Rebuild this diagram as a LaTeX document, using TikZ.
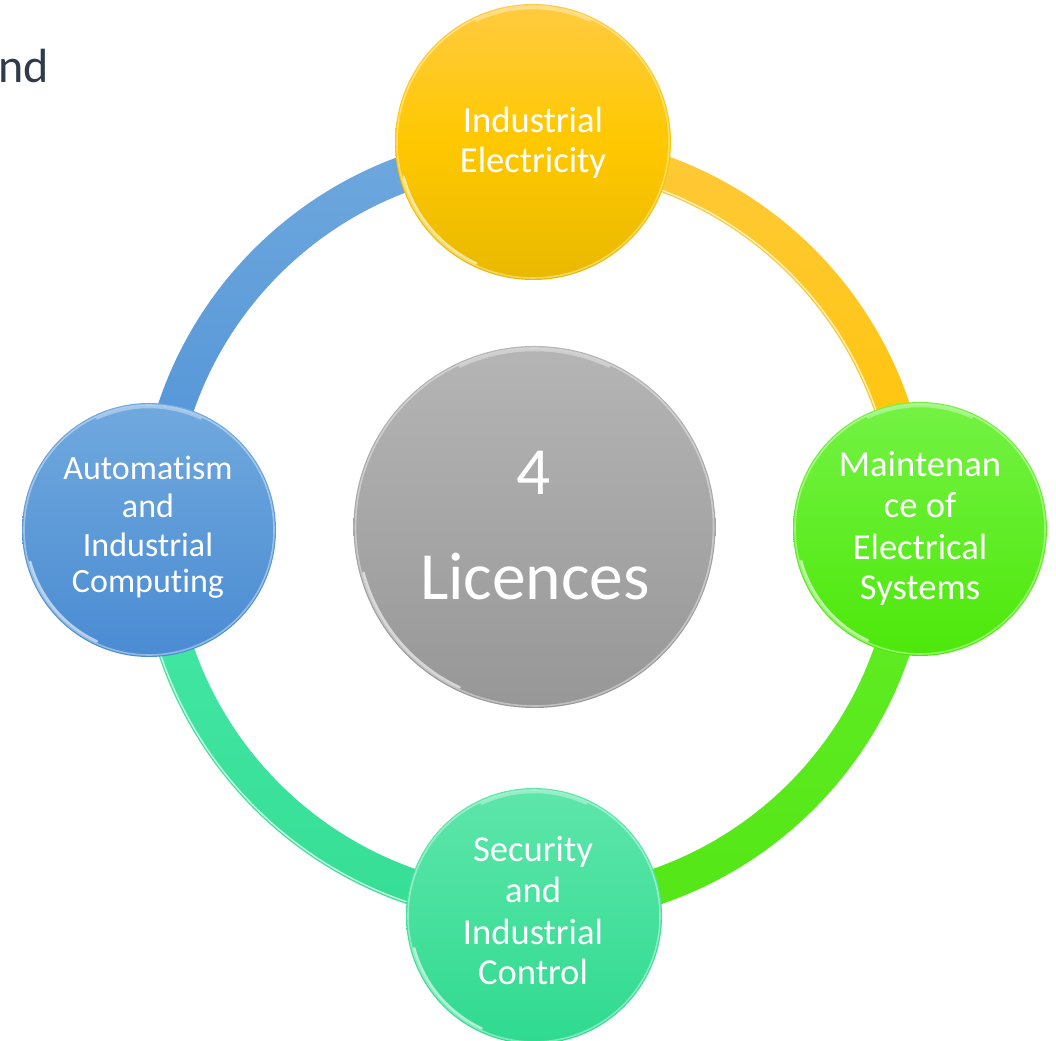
\documentclass[tikz,border=0pt]{standalone}
\usepackage{fontspec}
\setmainfont[Ligatures={NoCommon}]{Carlito}
\definecolor{blueT}{HTML}{70A9DE}
\definecolor{blueB}{HTML}{4A8BD2}
\definecolor{yelT}{HTML}{FFCB40}
\definecolor{yelM}{HTML}{FFC800}
\definecolor{yelB}{HTML}{E9B900}
\definecolor{grnT}{HTML}{74F244}
\definecolor{grnB}{HTML}{4DE80A}
\definecolor{tealT}{HTML}{5EE6AA}
\definecolor{tealB}{HTML}{2FDA90}
\definecolor{grayT}{HTML}{B5B5B5}
\definecolor{grayB}{HTML}{979797}
\definecolor{ringBlueT}{HTML}{6FA8DE}
\definecolor{ringBlueB}{HTML}{4E92D6}
\definecolor{ringYelT}{HTML}{FFC93A}
\definecolor{ringYelB}{HTML}{FFC400}
\definecolor{ringGrnT}{HTML}{62EE26}
\definecolor{ringGrnB}{HTML}{54E616}
\definecolor{ringTealT}{HTML}{44E8A8}
\definecolor{ringTealB}{HTML}{36DE94}
\definecolor{slate}{HTML}{2F3B4C}
\begin{document}
\begin{tikzpicture}[x=1pt,y=1pt,
  ball/.style={circle, inner sep=0pt, outer sep=0pt, draw=none},
  lbl/.style={anchor=base, inner sep=0pt, text=white},
  fs/.style={font=\fontsize{36.6}{41}\selectfont},
  fsl/.style={font=\fontsize{34}{38}\selectfont},
  rim/.style={draw=white, draw opacity=.4, line width=1.6pt},
  shine/.style={draw=white, draw opacity=.6, line width=2.5pt, line cap=round}
]
\useasboundingbox (0,0) rectangle (1056,1040);
\fill[white] (0,0) rectangle (1056,1040);

% partial title text
\node[anchor=base west, inner sep=0pt, text=slate, font=\fontsize{48}{56}\selectfont] (title) at (-2,957) {nd};

% ring
\coordinate (rc) at (534,511);
\shade[top color=ringBlueT, bottom color=ringBlueB]
  (rc) ++(90:396) arc[start angle=90,end angle=180,radius=396] -- ++(36,0)
  arc[start angle=180,end angle=90,radius=360] -- cycle;
\shade[top color=ringYelT, bottom color=ringYelB]
  (rc) ++(0:396) arc[start angle=0,end angle=90,radius=396] -- ++(0,-36)
  arc[start angle=90,end angle=0,radius=360] -- cycle;
\shade[top color=ringGrnT, bottom color=ringGrnB]
  (rc) ++(-90:396) arc[start angle=-90,end angle=0,radius=396] -- ++(-36,0)
  arc[start angle=0,end angle=-90,radius=360] -- cycle;
\shade[top color=ringTealT, bottom color=ringTealB]
  (rc) ++(180:396) arc[start angle=180,end angle=270,radius=396] -- ++(0,36)
  arc[start angle=270,end angle=180,radius=360] -- cycle;
% ring bevel highlights
\draw[draw=white, draw opacity=.7, line width=1.5pt] (rc) ++(10:362) arc[start angle=10,end angle=80,radius=362];
\draw[draw=white, draw opacity=.7, line width=1.5pt] (rc) ++(190:394) arc[start angle=190,end angle=260,radius=394];

% satellite balls
\node[ball, minimum size=276pt, top color=yelT, bottom color=yelB, middle color=yelM] (ie) at (533,898) {};
\node[ball, minimum size=254pt, top color=blueT, bottom color=blueB] (aic) at (149,510) {};
\node[ball, minimum size=254pt, top color=grnT, bottom color=grnB] (mes) at (920,511) {};
\node[ball, minimum size=256pt, top color=tealT, bottom color=tealB] (sic) at (534,124) {};
\node[ball, minimum size=362pt, top color=grayT, bottom color=grayB] (lic) at (534.5,513) {};

% glossy rims
\foreach \n/\r in {ie/138, aic/127, mes/127, sic/128, lic/181}{
  \draw[rim] (\n) circle[radius=\r-2];
  \draw[shine] (\n) ++(195:\r-4) arc[start angle=195,end angle=245,radius=\r-4];
  \draw[shine, draw opacity=.35] (\n) ++(65:\r-4) arc[start angle=65,end angle=115,radius=\r-4];
}

% texts
\node[lbl, fs] (ie1) at (533,907) {Industrial};
\node[lbl, fs] (ie2) at (533,867) {Electricity};

\node[lbl, fsl] (aic1) at (148,560) {Automatism};
\node[lbl, fsl] (aic2) at (148,522) {and};
\node[lbl, fsl] (aic3) at (148,483) {Industrial};
\node[lbl, fsl] (aic4) at (148,447) {Computing};

\node[lbl, fs] (mes1) at (920,563) {Maintenan};
\node[lbl, fs] (mes2) at (920,522) {ce of};
\node[lbl, fs] (mes3) at (920,480) {Electrical};
\node[lbl, fs] (mes4) at (920,440) {Systems};

\node[lbl, fs] (sic1) at (533,178) {Security};
\node[lbl, fs] (sic2) at (533,137) {and};
\node[lbl, fs] (sic3) at (533,95) {Industrial};
\node[lbl, fs] (sic4) at (533,55) {Control};

\node[lbl, font=\fontsize{67.5}{80}\selectfont] (num) at (534,545) {4};
\node[lbl, font=\fontsize{67.5}{80}\selectfont] (lictxt) at (535,440) {Licences};
\end{tikzpicture}
\end{document}
